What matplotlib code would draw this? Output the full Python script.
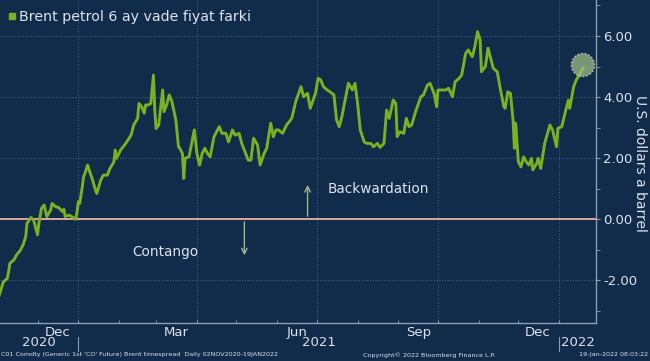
import pandas as pd
import matplotlib
matplotlib.use("Agg")
import matplotlib.pyplot as plt
import matplotlib.dates as mdates
from matplotlib.lines import Line2D
from matplotlib.ticker import MultipleLocator, FormatStrFormatter
from matplotlib.transforms import blended_transform_factory

# Brent 6-month timespread
start = pd.Timestamp("2020-11-02")
day_offsets = [
    0, 3, 6, 7, 8, 11, 13, 16, 18, 20, 21, 24, 26, 29, 30, 32, 34, 36, 39, 40,
    43, 45, 48, 49, 50, 53, 55, 58, 59, 60, 61, 63, 64, 65, 67, 69, 70, 73, 74, 77,
    79, 82, 84, 87, 88, 89, 92, 96, 100, 102, 105, 106, 108, 110, 111, 113, 115, 117, 118, 119,
    121, 124, 125, 127, 129, 131, 134, 136, 137, 139, 140, 141, 144, 146, 148, 150, 152, 154, 156, 158,
    160, 163, 167, 169, 172, 174, 177, 179, 182, 184, 187, 189, 191, 193, 196, 198, 201, 203, 206, 208,
    210, 212, 215, 218, 222, 225, 229, 231, 234, 236, 240, 242, 244, 246, 249, 251, 254, 256, 258, 260,
    263, 265, 268, 270, 272, 274, 277, 279, 282, 284, 287, 289, 292, 294, 296, 299, 301, 302, 304, 307,
    309, 311, 313, 316, 320, 322, 325, 327, 330, 332, 333, 336, 339, 341, 344, 346, 349, 351, 354, 356,
    359, 361, 363, 365, 366, 369, 371, 373, 375, 378, 380, 383, 384, 386, 388, 390, 391, 392, 394, 396,
    398, 400, 402, 404, 405, 408, 409, 411, 414, 418, 420, 423, 424, 427, 430, 432, 433, 436, 438, 441,
    443,
]
spread = [
    -2.49, -2.06, -1.95, -1.73, -1.45, -1.34, -1.18, -1.02, -0.85, -0.58, -0.14, 0.05, -0.03, -0.52, -0.14, 0.35, 0.46, 0.08, 0.30, 0.51,
    0.40, 0.38, 0.24, 0.32, 0.08, 0.13, 0.08, -0.01, 0.24, 0.57, 0.51, 1.06, 1.39, 1.50, 1.77, 1.50, 1.39, 0.95, 0.84, 1.28,
    1.44, 1.44, 1.66, 1.88, 2.26, 1.99, 2.26, 2.48, 2.75, 3.08, 3.30, 3.79, 3.68, 3.47, 3.74, 3.74, 3.79, 4.72, 3.57, 2.97,
    3.08, 4.23, 3.52, 3.74, 4.07, 3.85, 3.25, 2.37, 2.32, 2.15, 1.33, 1.99, 2.04, 2.48, 2.92, 2.15, 1.77, 2.15, 2.32, 2.15,
    2.04, 2.70, 3.03, 2.81, 2.81, 2.53, 2.92, 2.75, 2.81, 2.48, 2.15, 1.93, 1.93, 2.65, 2.43, 1.77, 2.15, 2.32, 3.14, 2.70,
    2.92, 2.92, 2.81, 3.08, 3.30, 3.85, 4.34, 4.01, 4.12, 3.63, 4.12, 4.61, 4.56, 4.34, 4.23, 4.17, 4.07, 3.25, 3.03, 3.35,
    4.01, 4.45, 4.23, 4.45, 3.79, 2.92, 2.53, 2.48, 2.48, 2.37, 2.48, 2.35, 2.48, 3.57, 3.30, 3.90, 3.79, 2.70, 2.86, 2.81,
    3.30, 3.03, 3.08, 3.52, 4.01, 4.07, 4.39, 4.45, 4.12, 3.68, 4.23, 4.23, 4.23, 4.29, 4.01, 4.50, 4.61, 4.72, 5.43, 5.54,
    5.32, 5.65, 6.14, 5.87, 4.83, 5.00, 5.60, 5.27, 4.94, 4.83, 4.34, 3.68, 3.63, 4.17, 4.12, 3.25, 2.32, 3.14, 1.88, 1.71,
    2.04, 1.88, 1.77, 1.99, 1.61, 1.83, 1.99, 1.66, 2.48, 3.08, 2.92, 2.37, 2.97, 3.03, 3.57, 3.90, 3.63, 4.34, 4.56, 4.78,
    4.95,
]
dates = start + pd.to_timedelta(day_offsets, unit="D")

month_labels = ["Dec", "Mar", "Jun", "Sep", "Dec"]
month_label_dates = pd.to_datetime(["2020-12-16", "2021-03-16", "2021-06-16", "2021-09-16", "2021-12-16"])
year_labels = ["2020", "2021", "2022"]
year_breaks = pd.to_datetime(["2021-01-01", "2022-01-01"])

bg = "#112b4a"
green = "#7cb023"
txt = "#dde4ec"
grid_c = "#3f5b7c"
spine_c = "#8e9cb0"

fig = plt.figure(figsize=(6.5, 3.61), dpi=100, facecolor=bg)
ax = fig.add_axes([0.0, 0.105, 0.917, 0.895])
ax.set_facecolor(bg)

x_lo = start + pd.Timedelta(hours=12)
x_hi = pd.Timestamp("2022-01-29")
ax.set_xlim(x_lo, x_hi)
ax.set_ylim(-3.41, 7.18)

ax.plot(dates, spread, color=green, lw=2.1, zorder=4)
ax.axhline(0, color="#dca69d", lw=1.4, zorder=3)
ax.scatter([dates[-1]], [spread[-1] + 0.1], s=280, facecolor="#9dbb86", alpha=0.75,
           edgecolor="#e2eadb", linestyle=":", linewidth=1.0, zorder=5)

# axes styling
for s in ["left", "top"]:
    ax.spines[s].set_visible(False)
for s in ["right", "bottom"]:
    ax.spines[s].set_color(spine_c)
    ax.spines[s].set_linewidth(1.0)

ax.yaxis.tick_right()
ax.yaxis.set_major_locator(MultipleLocator(2))
ax.yaxis.set_minor_locator(MultipleLocator(1))
ax.yaxis.set_major_formatter(FormatStrFormatter("%.2f"))
ax.tick_params(axis="y", which="both", colors=spine_c, labelcolor=txt, labelsize=9.5,
               length=3, direction="out", pad=2)

ax.xaxis.set_major_locator(mdates.MonthLocator(bymonth=[1, 4, 7, 10]))
ax.xaxis.set_minor_locator(mdates.MonthLocator())
ax.tick_params(axis="x", which="both", colors=spine_c, labelbottom=False,
               length=2.5, direction="in")

ax.grid(True, which="major", color=grid_c, linestyle=(0, (1, 1.5)), linewidth=0.8)
ax.set_axisbelow(True)

fig.text(640 / 650, 1 - 163 / 361, "U.S. dollars a barrel", color=txt, fontsize=10,
         rotation=270, ha="center", va="center")

# month / year labels under the axis
tr = blended_transform_factory(ax.transData, fig.transFigure)
for lab, d in zip(month_labels, month_label_dates):
    ax.text(d, 0.080, lab, transform=tr, ha="center", va="center", color=txt, fontsize=9.5)
edges = [x_lo] + list(year_breaks) + [x_hi]
for i, lab in enumerate(year_labels):
    mid = edges[i] + (edges[i + 1] - edges[i]) / 2
    ax.text(mid, 0.050, lab, transform=tr, ha="center", va="center", color=txt, fontsize=9.5)
for d in year_breaks:
    ax.add_line(Line2D([d, d], [0.028, 0.066], transform=tr, color=spine_c, lw=0.8, clip_on=False))

# annotations
arrow_c = "#a3b38e"
ax.annotate("", xy=(pd.Timestamp("2021-06-24"), 1.21), xytext=(pd.Timestamp("2021-06-24"), 0),
            arrowprops=dict(arrowstyle="->", color=arrow_c, lw=1.0))
ax.annotate("", xy=(pd.Timestamp("2021-05-07"), -1.28), xytext=(pd.Timestamp("2021-05-07"), 0),
            arrowprops=dict(arrowstyle="->", color=arrow_c, lw=1.0))
ax.text(pd.Timestamp("2021-07-09"), 1.0, "Backwardation", color=txt, fontsize=9.8, va="center")
ax.text(pd.Timestamp("2021-03-08"), -1.08, "Contango", color=txt, fontsize=9.8, va="center", ha="center")

# legend
h = Line2D([], [], marker="s", color=green, linestyle="", markersize=5)
leg = ax.legend([h], ["Brent petrol 6 ay vade fiyat farki"], loc="upper left",
                bbox_to_anchor=(0.005, 0.988), frameon=False, fontsize=10.2,
                handletextpad=0.25, handlelength=0.5, borderaxespad=0.0)
for t in leg.get_texts():
    t.set_color(txt)

# footer
fig.text(0.002, 0.017, "C01 Comdty (Generic 1st 'CO' Future) Brent timespread  Daily 02NOV2020-19JAN2022",
         color=txt, fontsize=4.6, va="center")
fig.text(0.558, 0.017, "Copyright\u00a9 2022 Bloomberg Finance L.P.", color=txt, fontsize=4.6, va="center")
fig.text(0.997, 0.017, "19-Jan-2022 08:03:22", color=txt, fontsize=4.6, va="center", ha="right")

fig.savefig("out.png", dpi=100, facecolor=bg)
